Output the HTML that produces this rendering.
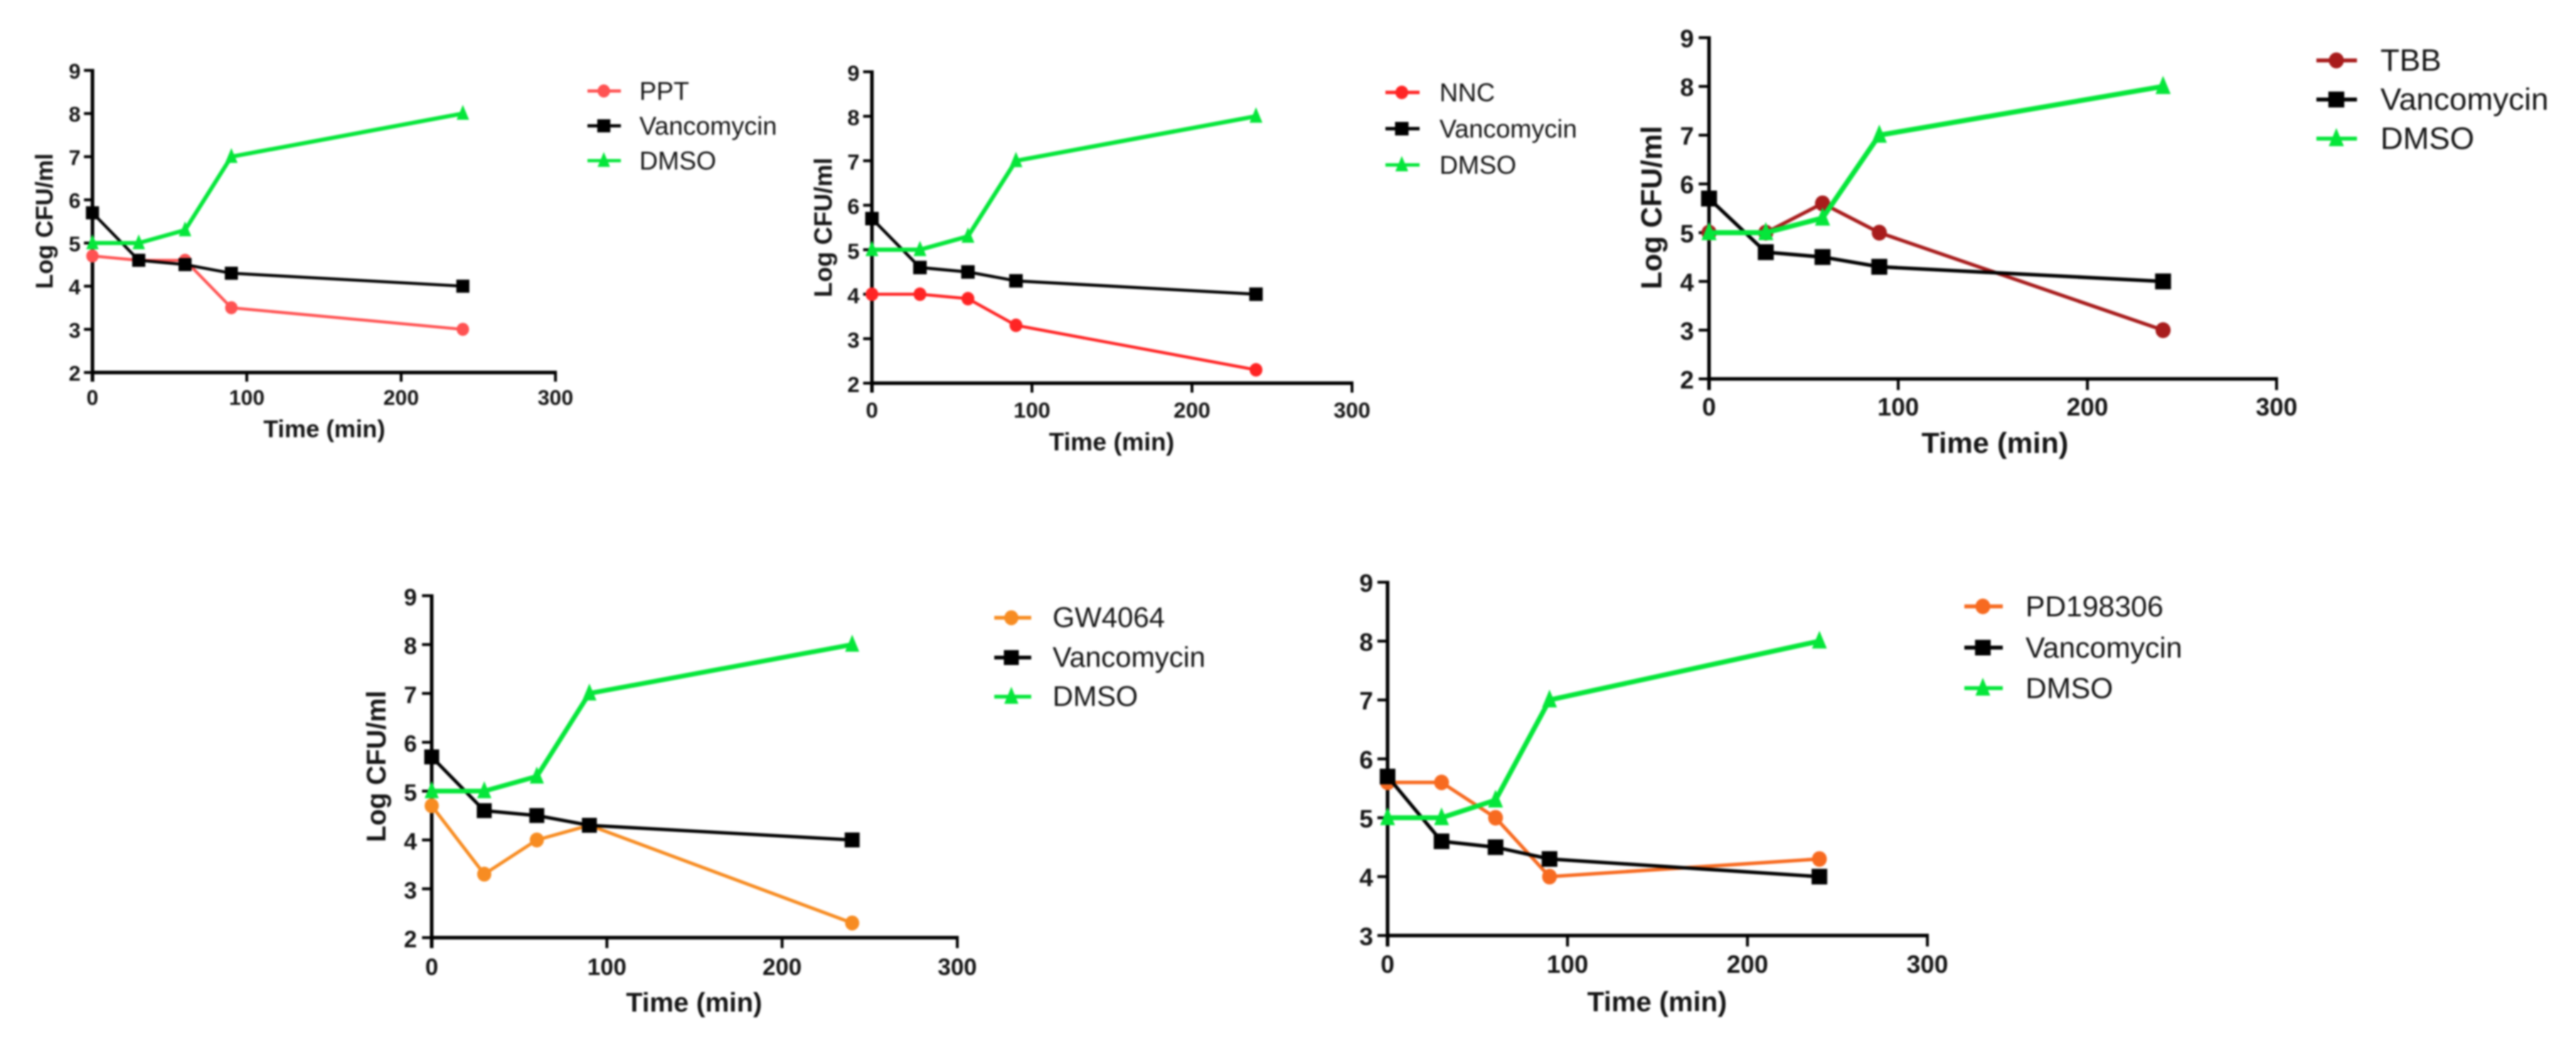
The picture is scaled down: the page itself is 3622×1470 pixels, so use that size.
<!DOCTYPE html>
<html>
<head>
<meta charset="utf-8">
<title>Time-kill curves</title>
<style>
html,body{margin:0;padding:0;background:#fff;width:3622px;height:1470px;overflow:hidden}
svg{display:block;filter:blur(1.3px)}
text{font-family:"Liberation Sans",sans-serif;fill:#151515}
</style>
</head>
<body>
<svg id="figure" xmlns="http://www.w3.org/2000/svg" width="3622" height="1470" viewBox="0 0 3622 1470"></svg>
<script>
// ---- Data ----
const timePoints = [0, 30, 60, 90, 240];
const vancomycin = [5.7, 4.6, 4.5, 4.3, 4.0];
const dmso = [5.0, 5.0, 5.3, 7.0, 8.0];
const ppt = [4.7, 4.6, 4.6, 3.5, 3.0];
const nnc = [4.0, 4.0, 3.9, 3.3, 2.3];
const tbb = [5.0, 5.0, 5.6, 5.0, 3.0];
const gw4064 = [4.7, 3.3, 4.0, 4.3, 2.3];
const pd198306 = [5.6, 5.6, 5.0, 4.0, 4.3];
const xTickLabels = [0, 100, 200, 300];
const yTickLabelsFromTwo = [2, 3, 4, 5, 6, 7, 8, 9];
const yTickLabelsFromThree = [3, 4, 5, 6, 7, 8, 9];
const compoundNames = ["PPT", "NNC", "TBB", "GW4064", "PD198306"];
const compoundSeries = [ppt, nnc, tbb, gw4064, pd198306];
const yTickSets = [yTickLabelsFromTwo, yTickLabelsFromTwo, yTickLabelsFromTwo, yTickLabelsFromTwo, yTickLabelsFromThree];

// ---- Layout (panel geometry, separate from data) ----
const panelLayouts = [
  {x0:130,x1:781,yTop:99,yBot:524,color:"#ff5252",s:.92,axisF:34,tickF:30,legF:36,
   tickX:105,xLabY:560,xTitleX:456,xTitleY:604,yTitleX:63,yTitleY:311,
   legSym:849,legL:826,legR:873,legText:899,legY:[128,177,226],hasYTitle:true},
  {x0:1226,x1:1901,yTop:101,yBot:539,color:"#ff2424",s:.95,axisF:35,tickF:31,legF:36,
   tickX:1200,xLabY:577,xTitleX:1563,xTitleY:622,yTitleX:1158,yTitleY:320,
   legSym:1971,legL:1948,legR:1996,legText:2024,legY:[130,181,232],hasYTitle:true},
  {x0:2403,x1:3201,yTop:53,yBot:533,color:"#a81c1c",s:1.12,axisF:41,tickF:35,legF:44,
   tickX:2372,xLabY:573,xTitleX:2805,xTitleY:623,yTitleX:2322,yTitleY:292,
   legSym:3285,legL:3257,legR:3314,legText:3347,legY:[85,140,195],hasYTitle:true},
  {x0:607,x1:1346,yTop:838,yBot:1319,color:"#f78c22",s:1.05,axisF:38,tickF:33,legF:40,
   tickX:577,xLabY:1360,xTitleX:976,xTitleY:1411,yTitleX:530,yTitleY:1078,
   legSym:1422,legL:1398,legR:1450,legText:1480,legY:[869,925,980],hasYTitle:true},
  {x0:1951,x1:2710,yTop:819,yBot:1316,color:"#f76a20",s:1.1,axisF:39,tickF:35,legF:41,
   tickX:1921,xLabY:1357,xTitleX:2330,xTitleY:1410,yTitleX:0,yTitleY:0,
   legSym:2788,legL:2762,legR:2816,legText:2848,legY:[853,911,968],hasYTitle:false}
];

const GREEN = "#05e63a";
const BLACK = "#000";
const NS = "http://www.w3.org/2000/svg";
const figure = document.getElementById("figure");

function mk(parent, tag, attrs) {
  const node = document.createElementNS(NS, tag);
  for (const k in attrs) node.setAttribute(k, attrs[k]);
  parent.appendChild(node);
  return node;
}

function drawMarker(parent, kind, cx, cy, s, color) {
  let m;
  if (kind === "circle") {
    m = mk(parent, "ellipse", {cx: cx, cy: cy, rx: 9.5 * s, ry: 10 * s, fill: color});
  } else if (kind === "square") {
    const h = 10 * s;
    m = mk(parent, "rect", {x: cx - h, y: cy - h, width: 2 * h, height: 2 * h, fill: color});
  } else {
    const h = 9.5 * s;
    m = mk(parent, "polygon", {points: (cx) + "," + (cy - h * 1.4) + " " + (cx + h) + "," + (cy + h) + " " + (cx - h) + "," + (cy + h), fill: color});
  }
  
  
  return m;
}

function drawLine(parent, xFn, yFn, values, color, width, kind, s, slug) {
  const g = mk(parent, "g", {});
  
  
  const pts = values.map((v, i) => xFn(timePoints[i]) + "," + yFn(v)).join(" ");
  const line = mk(g, "polyline", {points: pts, fill: "none", stroke: color, "stroke-width": width, "stroke-linejoin": "round"});
  
  
  values.forEach((v, i) => drawMarker(g, kind, xFn(timePoints[i]), yFn(v), s, color));
}

function drawLabel(parent, str, x, y, size, weight, anchor, slug) {
  const t = mk(parent, "text", {x: x, y: y, "font-size": size, "font-weight": weight, "text-anchor": anchor, "dominant-baseline": "central"});
  t.textContent = str;
  
  
  return t;
}

panelLayouts.forEach((p, idx) => {
  const panel = mk(figure, "g", {});
  
  

  const yTicks = yTickSets[idx];
  const yMin = yTicks[0];
  const yMax = yTicks[yTicks.length - 1];
  const xMax = xTickLabels[xTickLabels.length - 1];
  const xFn = t => p.x0 + (t / xMax) * (p.x1 - p.x0);
  const yFn = v => p.yBot - ((v - yMin) / (yMax - yMin)) * (p.yBot - p.yTop);

  // Axes
  const axisW = 5;
  const yAxis = mk(panel, "line", {x1: p.x0, x2: p.x0, y1: p.yTop - 2, y2: p.yBot + 2, stroke: "#000", "stroke-width": axisW});
  
  
  const xAxis = mk(panel, "line", {x1: p.x0 - 2, x2: p.x1 + 2, y1: p.yBot, y2: p.yBot, stroke: "#000", "stroke-width": axisW});
  
  

  yTicks.forEach(v => {
    const tk = mk(panel, "line", {x1: p.x0 - 13 * p.s, x2: p.x0, y1: yFn(v), y2: yFn(v), stroke: "#000", "stroke-width": 4});
    
    
    drawLabel(panel, String(v), p.tickX, yFn(v) + 2, p.tickF, "bold", "middle", 'y-tick-label');
  });
  xTickLabels.forEach(v => {
    const tk = mk(panel, "line", {x1: xFn(v), x2: xFn(v), y1: p.yBot, y2: p.yBot + 14 * p.s, stroke: "#000", "stroke-width": v === 0 ? 5 : 4});
    
    
    drawLabel(panel, String(v), xFn(v), p.xLabY, p.tickF, "bold", "middle", 'x-tick-label');
  });

  drawLabel(panel, "Time (min)", p.xTitleX, p.xTitleY, p.axisF, "bold", "middle", 'x-axis-title');
  if (p.hasYTitle) {
    const yt = drawLabel(panel, "Log CFU/ml", p.yTitleX, p.yTitleY, p.axisF, "bold", "middle", 'y-axis-title');
    yt.setAttribute("transform", "rotate(-90 " + p.yTitleX + " " + p.yTitleY + ")");
  }

  // Series
  const w = 4.5 * p.s;
  drawLine(panel, xFn, yFn, compoundSeries[idx], p.color, w, "circle", p.s, compoundNames[idx].toLowerCase());
  drawLine(panel, xFn, yFn, vancomycin, BLACK, w, "square", p.s, 'vancomycin');
  drawLine(panel, xFn, yFn, dmso, GREEN, w * 1.4, "triangle", p.s, 'dmso');

  // Legend
  const legendNames = [compoundNames[idx], "Vancomycin", "DMSO"];
  const legendColors = [p.color, BLACK, GREEN];
  const legendKinds = ["circle", "square", "triangle"];
  const legend = mk(panel, "g", {});
  
  
  legendNames.forEach((nm, i) => {
    const row = mk(legend, "g", {});
    
    
    const ly = p.legY[i];
    const sw = mk(row, "line", {x1: p.legL, x2: p.legR, y1: ly, y2: ly, stroke: legendColors[i], "stroke-width": 5 * p.s});
    
    
    drawMarker(row, legendKinds[i], p.legSym, ly, p.s, legendColors[i]);
    drawLabel(row, nm, p.legText, ly, p.legF, "normal", "start", 'legend-label');
  });
});
</script>
</body>
</html>
